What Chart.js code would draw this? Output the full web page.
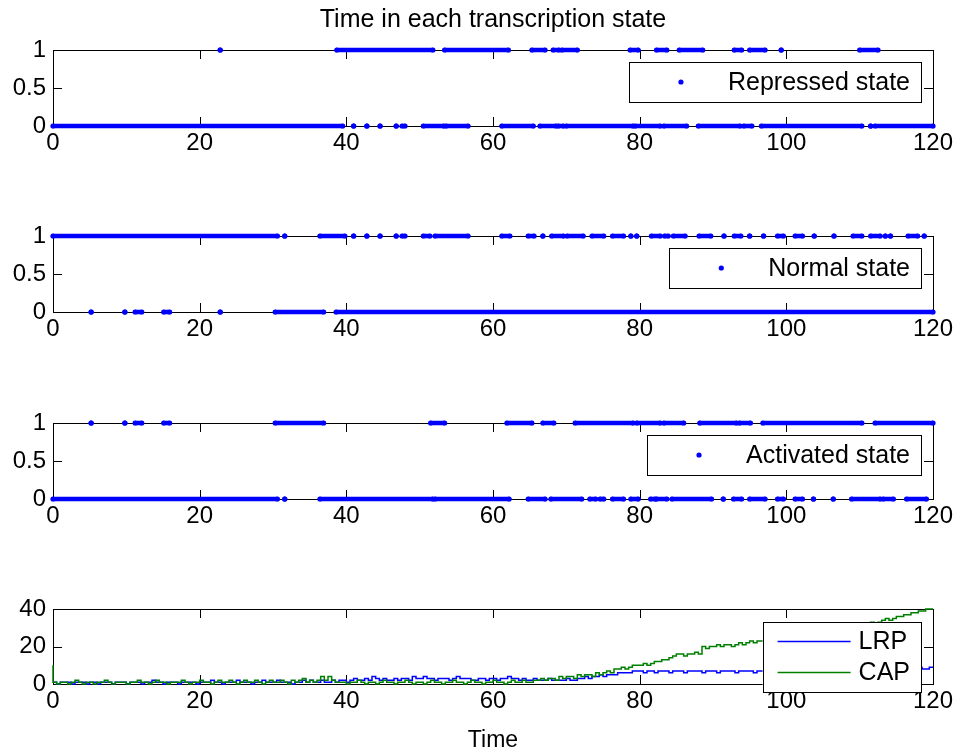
<!DOCTYPE html>
<html>
<head>
<meta charset="utf-8">
<script src="https://cdn.jsdelivr.net/npm/chart.js@4.4.0/dist/chart.umd.min.js"></script>
<style>
	html, body { margin: 0; padding: 0; background: #fff; }
	#wrap { position: relative; width: 958px; height: 751px; overflow: hidden; font-family: "Liberation Sans", Arial, sans-serif; }
	canvas { position: absolute; left: 0; }
	.lbl { position: absolute; left: 53px; width: 880px; text-align: center; color: #000; line-height: 1; }
</style>
</head>
<body>
<div id="wrap">
	<canvas id="c0" width="958" height="186" style="top:0px"></canvas>
	<canvas id="c1" width="958" height="186" style="top:186px"></canvas>
	<canvas id="c2" width="958" height="186" style="top:373px"></canvas>
	<canvas id="c3" width="958" height="192" style="top:559px"></canvas>
	<div class="lbl" style="top:6px;font-size:25px;">Time in each transcription state</div>
	<div class="lbl" style="top:728px;font-size:23px;">Time</div>
</div>
<script>
// time ranges [start, end] where each state row has points
var repressedOn = [[22.8,22.8],[38.7,51.8],[53.4,62.1],[65.3,67.1],[68.2,69.0],[69.4,71.5],[78.7,79.8],[82.3,83.7],[85.4,88.6],[92.9,93.9],[95.0,97.1],[99.3,99.3],[110.0,112.5]];
var repressedOff = [[0,39.5],[41.0,41.0],[42.8,42.8],[44.6,44.6],[46.8,46.8],[47.6,48.0],[50.5,53.3],[53.6,56.6],[61.2,65.5],[66.4,68.6],[68.9,69.6],[70.0,79.1],[79.4,82.8],[83.3,86.4],[88.0,93.7],[94.2,95.3],[96.6,110.3],[111.5,111.5],[112.1,120]];

var normalOn = [[0,30.6],[31.6,31.6],[36.4,39.8],[41.0,41.0],[42.8,42.8],[44.6,44.6],[46.8,46.8],[47.6,48.0],[50.5,51.4],[52.1,56.6],[61.2,62.3],[64.8,65.6],[66.8,66.8],[68.0,69.6],[70.1,72.3],[73.5,75.1],[76.3,77.8],[78.8,78.8],[79.6,79.6],[81.6,82.8],[83.4,83.9],[84.6,86.2],[88.1,89.7],[91.5,91.5],[92.9,93.8],[95.0,95.0],[96.9,96.9],[98.8,99.6],[101.2,102.2],[103.8,103.8],[106.5,106.5],[109.1,110.3],[111.5,112.8],[113.5,113.5],[114.2,114.2],[116.6,117.9],[118.8,118.8]];
var normalOff = [[5.2,5.2],[9.8,9.8],[11.2,12.1],[15.1,15.9],[22.8,22.8],[30.3,36.9],[38.6,120]];

var activatedOn = [[5.2,5.2],[9.8,9.8],[11.2,12.1],[15.1,15.9],[30.3,36.9],[51.5,53.4],[61.9,65.3],[66.8,68.3],[71.2,79.1],[79.6,82.8],[83.3,86.0],[88.2,93.2],[93.6,95.1],[96.8,110.3],[112.1,120]];
var activatedOff = [[0,30.6],[31.6,31.6],[36.4,51.8],[52.1,62.2],[64.8,67.1],[67.9,72.1],[73.2,74.0],[74.6,75.1],[76.3,77.8],[78.8,79.8],[81.5,82.1],[82.3,83.7],[84.4,89.8],[91.4,91.4],[92.8,93.9],[95.0,97.1],[98.8,99.6],[101.2,102.2],[103.7,103.7],[106.4,106.4],[108.9,112.8],[113.2,114.6],[116.4,119.1]];

// LRP / CAP sampled every 0.5 time units, t = 0 .. 120
var sampleStep = 0.5;
var lrp = [
	1,1,0,1,1,1,0,1,1,1,0,1,1,0,1,1,1,0,1,1,
	1,0,1,1,1,0,1,1,2,1,1,0,1,1,1,0,1,1,1,1,
	0,1,1,1,2,1,1,0,1,1,1,2,1,1,1,0,1,1,2,1,
	1,1,2,1,1,1,0,1,1,2,1,2,1,1,2,1,1,2,1,2,
	2,1,2,3,2,2,3,2,4,3,2,3,2,2,3,2,3,3,2,4,
	3,3,4,3,3,2,3,3,3,2,3,4,3,3,3,2,2,3,3,2,
	3,3,2,3,3,4,3,3,2,3,2,2,3,2,2,2,3,2,2,2,
	2,3,2,2,3,3,4,3,4,4,5,4,5,5,5,6,6,6,6,7,
	7,7,6,7,7,6,7,7,7,6,7,7,7,6,7,7,7,7,6,7,
	7,7,6,7,7,7,7,6,7,7,7,7,6,7,7,7,7,7,6,7,
	7,8,7,7,7,8,7,7,8,7,7,7,8,7,8,7,7,8,7,8,
	8,7,8,8,7,8,8,8,7,8,8,8,8,7,8,8,8,9,8,8,
	9
];
var cap = [
	10,1,0,1,1,0,1,2,1,0,1,1,0,1,1,2,1,0,1,1,
	1,0,1,1,2,1,1,0,1,2,1,1,0,1,1,1,2,1,0,1,
	1,2,1,1,0,1,2,1,1,2,1,0,1,2,1,1,2,1,0,1,
	2,1,1,2,1,0,2,1,2,3,1,2,1,2,4,2,4,2,1,1,
	1,0,1,1,2,1,0,1,1,0,1,2,1,1,0,1,1,2,1,0,
	1,1,0,1,2,1,1,0,1,1,2,1,1,0,1,2,1,1,0,1,
	1,2,1,1,0,1,2,1,1,2,1,1,2,2,3,2,3,3,2,4,
	3,4,4,3,5,4,5,5,4,6,5,6,7,6,8,8,9,8,9,10,
	10,10,11,10,11,12,12,13,13,14,15,16,16,15,16,16,17,16,20,19,
	20,20,21,20,21,21,20,21,22,21,22,23,22,23,23,24,23,24,24,25,
	25,25,26,25,26,27,26,27,27,28,28,29,28,29,30,29,30,31,30,31,
	31,32,31,32,33,32,33,34,35,34,35,36,36,37,37,38,38,39,39,40,
	40
];

var xTicks = { min: 0, max: 120, step: 20 };
var blue = '#0000ff', green = '#008000';
var fontFamily = '"Liberation Sans", Arial, sans-serif';
var tickFont = 24;

function rowPoints(segs, y) {
	var pts = [];
	segs.forEach(function(s) {
		pts.push({x: s[0], y: y}, {x: s[1], y: y}, {x: s[1], y: null});
	});
	return pts;
}

function stateSets(on, off) {
	return [on, off].map(function(segs, i) {
		return {
			data: rowPoints(segs, i === 0 ? 1 : 0),
			borderColor: blue,
			backgroundColor: blue,
			borderWidth: 4.5,
			borderCapStyle: 'round',
			pointRadius: 2.6,
			pointBorderWidth: 0,
			pointBackgroundColor: blue,
			spanGaps: false,
			clip: false
		};
	});
}

// box with inward ticks, like matlab axes
var boxPlugin = {
	id: 'mbox',
	beforeDatasetsDraw: function(chart) {
		var ctx = chart.ctx, a = chart.chartArea, sx = chart.scales.x, sy = chart.scales.y, tl = 9;
		ctx.save();
		ctx.strokeStyle = '#000';
		ctx.lineWidth = 1;
		ctx.beginPath();
		sx.ticks.forEach(function(t) {
			var px = Math.round(sx.getPixelForValue(t.value)) + 0.5;
			ctx.moveTo(px, a.bottom); ctx.lineTo(px, a.bottom - tl);
			ctx.moveTo(px, a.top); ctx.lineTo(px, a.top + tl);
		});
		sy.ticks.forEach(function(t) {
			var py = Math.round(sy.getPixelForValue(t.value)) + 0.5;
			ctx.moveTo(a.left, py); ctx.lineTo(a.left + tl, py);
			ctx.moveTo(a.right, py); ctx.lineTo(a.right - tl, py);
		});
		ctx.stroke();
		ctx.strokeRect(a.left + 0.5, a.top + 0.5, a.right - a.left, a.bottom - a.top);
		ctx.restore();
	}
};

var legendPlugin = {
	id: 'mlegend',
	afterDatasetsDraw: function(chart, args, opts) {
		if (!opts.items) return;
		var ctx = chart.ctx, a = chart.chartArea;
		ctx.save();
		ctx.font = opts.fontSize + 'px ' + fontFamily;
		var w = 0;
		opts.items.forEach(function(it) { w = Math.max(w, ctx.measureText(it.label).width); });
		var boxRight = a.right - 12;
		var textLeft = boxRight - 11 - w;
		var boxLeft, lineStart, lineEnd, dotX;
		if (opts.kind === 'dot') {
			dotX = textLeft - 47;
			boxLeft = dotX - 52;
		} else {
			lineEnd = textLeft - 8;
			lineStart = lineEnd - 73;
			boxLeft = lineStart - 15;
		}
		var boxTop = a.top + opts.top;
		ctx.fillStyle = '#fff';
		ctx.fillRect(boxLeft, boxTop, boxRight - boxLeft, opts.height);
		ctx.strokeStyle = '#000';
		ctx.lineWidth = 1;
		ctx.strokeRect(Math.round(boxLeft) + 0.5, Math.round(boxTop) + 0.5, Math.round(boxRight - boxLeft), opts.height);
		ctx.textBaseline = 'middle';
		ctx.textAlign = 'left';
		opts.items.forEach(function(it, i) {
			var cy = boxTop + opts.first + i * opts.gap;
			if (opts.kind === 'dot') {
				ctx.fillStyle = it.color;
				ctx.beginPath();
				ctx.arc(dotX, cy, 2.6, 0, Math.PI * 2);
				ctx.fill();
			} else {
				ctx.strokeStyle = it.color;
				ctx.lineWidth = 1.4;
				ctx.beginPath();
				ctx.moveTo(lineStart, Math.round(cy) + 0.5);
				ctx.lineTo(lineEnd, Math.round(cy) + 0.5);
				ctx.stroke();
			}
			ctx.fillStyle = '#000';
			ctx.fillText(it.label, textLeft, cy + 1);
		});
		ctx.restore();
	}
};

function makeChart(id, datasets, yMax, yStep, legend, canvasH, plotH) {
	return new Chart(document.getElementById(id), {
		type: 'scatter',
		data: { datasets: datasets },
		options: {
			responsive: false,
			animation: false,
			events: [],
			showLine: true,
			layout: { padding: { top: 50, left: 0, right: 25, bottom: 0 } },
			plugins: {
				legend: { display: false },
				tooltip: { enabled: false },
				mlegend: legend
			},
			scales: {
				x: {
					type: 'linear',
					min: xTicks.min, max: xTicks.max,
					grid: { display: false, drawTicks: false },
					border: { display: false },
					ticks: { stepSize: xTicks.step, color: '#000', padding: 3, maxRotation: 0, font: { size: tickFont, family: fontFamily } },
					afterFit: function(s) { s.height = canvasH - 50 - plotH; }
				},
				y: {
					type: 'linear',
					min: 0, max: yMax,
					grid: { display: false, drawTicks: false },
					border: { display: false },
					ticks: { stepSize: yStep, color: '#000', padding: 7, font: { size: tickFont, family: fontFamily },
						callback: function(v) { return String(v); } },
					afterFit: function(s) { s.width = 53; }
				}
			}
		},
		plugins: [boxPlugin, legendPlugin]
	});
}

var dotLegend = function(label) {
	return { kind: 'dot', fontSize: 25, top: 12, height: 40, first: 20, gap: 0, items: [{ label: label, color: blue }] };
};

makeChart('c0', stateSets(repressedOn, repressedOff), 1, 0.5, dotLegend('Repressed state'), 186, 76);
makeChart('c1', stateSets(normalOn, normalOff), 1, 0.5, dotLegend('Normal state'), 186, 76);
makeChart('c2', stateSets(activatedOn, activatedOff), 1, 0.5, dotLegend('Activated state'), 186, 76);

var lrpPts = lrp.map(function(v, i) { return { x: i * sampleStep, y: v }; });
var capPts = cap.map(function(v, i) { return { x: i * sampleStep, y: v }; });
makeChart('c3', [
	{ label: 'LRP', data: lrpPts, borderColor: blue, borderWidth: 1.5, pointRadius: 0, stepped: 'after', order: 2, clip: false },
	{ label: 'CAP', data: capPts, borderColor: green, borderWidth: 1.5, pointRadius: 0, stepped: 'after', order: 1, clip: false }
], 40, 20, { kind: 'line', fontSize: 25, top: 13, height: 70, first: 19, gap: 31,
	items: [{ label: 'LRP', color: blue }, { label: 'CAP', color: green }] }, 192, 75);
</script>
</body>
</html>
